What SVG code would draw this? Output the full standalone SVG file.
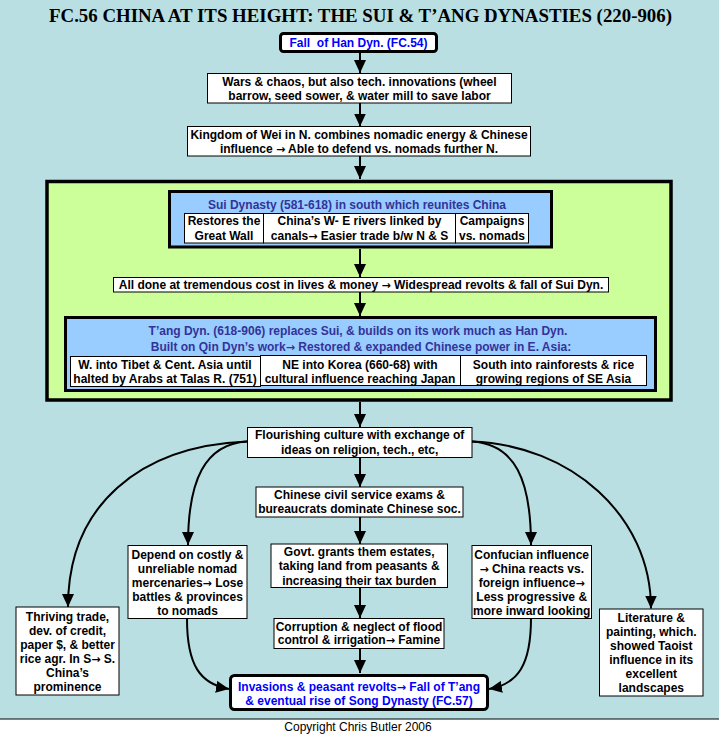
<svg xmlns="http://www.w3.org/2000/svg" width="719" height="736" viewBox="0 0 719 736">
<defs>
<style>
.t{font-family:"Liberation Sans",Arial,sans-serif;font-size:12px;font-weight:bold;fill:#000;text-anchor:middle}
.bl{fill:#0000ff}
.db{fill:#333399}
.ar{font-family:"DejaVu Sans",sans-serif;font-size:11px;font-weight:bold}
.b{fill:#fff;stroke:#000;stroke-width:1}
.bt{fill:#fff;stroke:#000;stroke-width:3}
.bb{fill:#99ccff;stroke:#000;stroke-width:3}
.c{fill:none;stroke:#000;stroke-width:2;marker-end:url(#ah)}
</style>
<marker id="ah" markerWidth="13" markerHeight="12" refX="13" refY="6" orient="auto" markerUnits="userSpaceOnUse" viewBox="0 0 13 12">
<path d="M0,0 L13,6 L0,12 z" fill="#000"/>
</marker>
</defs>
<rect x="0" y="0" width="719" height="736" fill="#b9dfe3"/>
<rect x="0" y="719" width="719" height="17" fill="#fff"/>
<line x1="0" y1="719" x2="719" y2="719" stroke="#000" stroke-width="1"/>
<text x="360.5" y="22" textLength="623" lengthAdjust="spacingAndGlyphs" style="font-family:'Liberation Serif','Times New Roman',serif;font-size:19px;font-weight:bold;text-anchor:middle">FC.56 CHINA AT ITS HEIGHT: THE SUI &amp; T’ANG DYNASTIES (220-906)</text>
<text x="358" y="731" style="font-family:'Liberation Sans',Arial,sans-serif;font-size:12px;text-anchor:middle">Copyright Chris Butler 2006</text>

<g id="n-green">
<rect x="47" y="181.5" width="624" height="218.5" fill="#ccff99" stroke="#000" stroke-width="3.5"/>
</g>

<g id="connectors">
<path class="c" d="M360,51.5 L360,73"/>
<path class="c" d="M360,103 L360,126.5"/>
<path class="c" d="M360,156 L360,179"/>
<path class="c" d="M360,249 L360,277"/>
<path class="c" d="M360,292 L360,316"/>
<path class="c" d="M360,402 L360,427"/>
<path class="c" d="M360,457 L360,487"/>
<path class="c" d="M360,517 L360,544"/>
<path class="c" d="M360,587 L360,618"/>
<path class="c" d="M360,648 L360,673"/>
<path class="c" d="M247,441.5 C140,446 68,505 68,607"/>
<path class="c" d="M247,441.5 C205,444 188,480 188,545"/>
<path class="c" d="M187,619 C187,665 200,684 229,689"/>
<path class="c" d="M472,441.5 C515,444 531,480 531,545"/>
<path class="c" d="M472,441.5 C570,445 651,515 651,608.5"/>
<path class="c" d="M531,618 C531,665 518,684 489,689"/>
</g>

<g id="n-fall">
<rect class="bt" x="280.5" y="33.5" width="156" height="18" rx="3"/>
<text class="t bl" x="358.5" y="47" xml:space="preserve">Fall  of Han Dyn. (FC.54)</text>
</g>
<g id="n-wars">
<rect class="b" x="207.5" y="73.5" width="304" height="29.5"/>
<text class="t" x="359.5" y="86">Wars &amp; chaos, but also tech. innovations (wheel</text>
<text class="t" x="359.5" y="100">barrow, seed sower, &amp; water mill to save labor</text>
</g>
<g id="n-wei">
<rect class="b" x="187.5" y="126.5" width="343" height="29.5"/>
<text class="t" x="359" y="138.5">Kingdom of Wei in N. combines nomadic energy &amp; Chinese</text>
<text class="t" x="359" y="152.5">influence <tspan class="ar">→</tspan> Able to defend vs. nomads further N.</text>
</g>

<g id="n-sui">
<rect class="bb" x="169.5" y="191.5" width="382" height="55.5"/>
<text class="t db" x="357" y="208.5">Sui Dynasty (581-618) in south which reunites China</text>
<rect class="b" x="184.5" y="213.5" width="79" height="29.5"/>
<rect class="b" x="263.5" y="213.5" width="192" height="29.5"/>
<rect class="b" x="455.5" y="213.5" width="73" height="29.5"/>
<text class="t" x="224" y="225">Restores the</text>
<text class="t" x="224" y="240">Great Wall</text>
<text class="t" x="359.5" y="225">China’s W- E rivers linked by</text>
<text class="t" x="359.5" y="240">canals<tspan class="ar">→</tspan> Easier trade b/w N &amp; S</text>
<text class="t" x="492" y="225">Campaigns</text>
<text class="t" x="492" y="240">vs. nomads</text>
</g>
<g id="n-alldone">
<rect class="b" x="113.5" y="277.5" width="495" height="14.5"/>
<text class="t" x="361" y="288.5">All done at tremendous cost in lives &amp; money <tspan class="ar">→</tspan> Widespread revolts &amp; fall of Sui Dyn.</text>
</g>
<g id="n-tang">
<rect class="bb" x="65.5" y="317.5" width="590" height="73"/>
<text class="t db" x="358" y="334.5">T’ang Dyn. (618-906) replaces Sui, &amp; builds on its work much as Han Dyn.</text>
<text class="t db" x="361" y="350.5">Built on Qin Dyn’s work<tspan class="ar">→</tspan> Restored &amp; expanded Chinese power in E. Asia:</text>
<rect class="b" x="70.5" y="356.5" width="190" height="30"/>
<rect class="b" x="260.5" y="355.5" width="200" height="30"/>
<rect class="b" x="460.5" y="355.5" width="186" height="30"/>
<text class="t" x="165" y="368.5">W. into Tibet &amp; Cent. Asia until</text>
<text class="t" x="165" y="382.5">halted by Arabs at Talas R. (751)</text>
<text class="t" x="360" y="368.5">NE into Korea (660-68) with</text>
<text class="t" x="360" y="382.5">cultural influence reaching Japan</text>
<text class="t" x="553.5" y="368.5">South into rainforests &amp; rice</text>
<text class="t" x="553.5" y="382.5">growing regions of SE Asia</text>
</g>

<g id="n-flourish">
<rect class="b" x="247.5" y="427.5" width="224.5" height="30"/>
<text class="t" x="359.7" y="439">Flourishing culture with exchange of</text>
<text class="t" x="359.7" y="453.5">ideas on religion, tech., etc,</text>
</g>
<g id="n-civil">
<rect class="b" x="256" y="487" width="207" height="30"/>
<text class="t" x="359.5" y="498.5">Chinese civil service exams &amp;</text>
<text class="t" x="359.5" y="512.5">bureaucrats dominate Chinese soc.</text>
</g>
<g id="n-govt">
<rect class="b" x="271" y="544" width="176.5" height="43.5"/>
<text class="t" x="359.2" y="555.5">Govt. grants them estates,</text>
<text class="t" x="359.2" y="570">taking land from peasants &amp;</text>
<text class="t" x="359.2" y="584.5">increasing their tax burden</text>
</g>
<g id="n-corrupt">
<rect class="b" x="274" y="618.5" width="170" height="30"/>
<text class="t" x="359" y="630.5">Corruption &amp; neglect of flood</text>
<text class="t" x="359" y="644">control &amp; irrigation<tspan class="ar">→</tspan> Famine</text>
</g>
<g id="n-invasions">
<rect class="bt" x="230.5" y="675.5" width="257" height="34" rx="4"/>
<text class="t bl" x="359" y="690.5">Invasions &amp; peasant revolts<tspan class="ar">→</tspan> Fall of T’ang</text>
<text class="t bl" x="359" y="704.5">&amp; eventual rise of Song Dynasty (FC.57)</text>
</g>
<g id="n-depend">
<rect class="b" x="128" y="545.5" width="119" height="73"/>
<text class="t" x="187.5" y="558.5">Depend on costly &amp;</text>
<text class="t" x="187.5" y="572.5">unreliable nomad</text>
<text class="t" x="187.5" y="586.5">mercenaries<tspan class="ar">→</tspan> Lose</text>
<text class="t" x="187.5" y="601">battles &amp; provinces</text>
<text class="t" x="187.5" y="615">to nomads</text>
</g>
<g id="n-thriving">
<rect class="b" x="16" y="607" width="103" height="88"/>
<text class="t" x="67.5" y="620.5">Thriving trade,</text>
<text class="t" x="67.5" y="634.5">dev. of credit,</text>
<text class="t" x="67.5" y="648.5">paper $, &amp; better</text>
<text class="t" x="67.5" y="663">rice agr. In S<tspan class="ar">→</tspan> S.</text>
<text class="t" x="67.5" y="677">China’s</text>
<text class="t" x="67.5" y="691">prominence</text>
</g>
<g id="n-confucian">
<rect class="b" x="472" y="545.5" width="119.5" height="73"/>
<text class="t" x="531.7" y="558.5">Confucian influence</text>
<text class="t" x="531.7" y="572.5"><tspan class="ar">→</tspan> China reacts vs.</text>
<text class="t" x="531.7" y="586.5">foreign influence<tspan class="ar">→</tspan></text>
<text class="t" x="531.7" y="601">Less progressive &amp;</text>
<text class="t" x="531.7" y="615">more inward looking</text>
</g>
<g id="n-literature">
<rect class="b" x="599.5" y="609" width="103.5" height="87"/>
<text class="t" x="651.3" y="621.5">Literature &amp;</text>
<text class="t" x="651.3" y="635.5">painting, which.</text>
<text class="t" x="651.3" y="649.5">showed Taoist</text>
<text class="t" x="651.3" y="664">influence in its</text>
<text class="t" x="651.3" y="678">excellent</text>
<text class="t" x="651.3" y="692">landscapes</text>
</g>
</svg>
